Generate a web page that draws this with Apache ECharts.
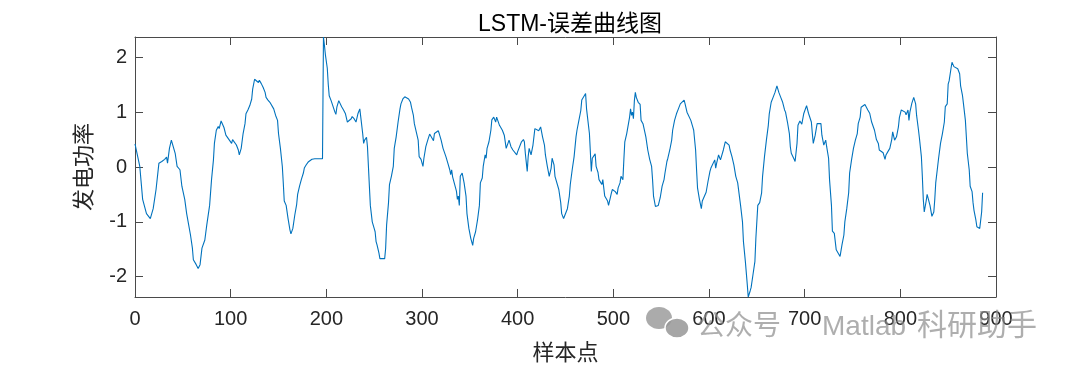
<!DOCTYPE html>
<html>
<head>
<meta charset="utf-8">
<script src="https://cdn.jsdelivr.net/npm/echarts@6/dist/echarts.min.js"></script>
<style>
html,body{margin:0;padding:0;background:#ffffff;}
#chart{width:1080px;height:370px;}
</style>
</head>
<body>
<div id="chart"></div>
<script>
// Sample indices and LSTM error values
const sampleIdx = [0,5,8,12,16,19,22,25,28,31,33,34,36,38,40,42,44,47,49,52,54,55,58,60,61,64,66,68,70,73,75,78,80,82,83,85,87,88,90,91,93,95,97,99,101,102,104,106,108,109,111,113,115,116,118,120,122,123,125,127,129,130,132,134,136,137,139,141,143,145,147,149,150,152,154,155,156,158,160,162,163,165,167,169,170,172,174,176,177,179,181,183,185,188,191,196,197,198,199,201,202,203,205,207,209,210,211,213,215,216,218,220,222,224,226,227,229,230,231,233,235,236,238,239,240,242,243,244,245,246,248,250,251,252,253,255,256,258,261,262,263,265,266,268,270,271,273,275,277,278,280,282,284,286,288,289,291,292,294,296,297,299,301,302,304,306,308,310,312,313,315,317,318,320,322,324,325,327,329,330,331,332,334,336,337,338,339,340,342,344,346,347,349,351,353,354,356,358,360,361,363,364,366,367,368,370,372,373,375,377,378,379,381,383,384,386,388,391,393,395,397,399,400,402,404,406,407,408,410,411,412,414,416,418,420,422,424,426,428,429,431,432,433,435,436,438,439,441,443,445,446,448,450,452,454,455,457,459,461,462,464,466,467,469,471,472,474,475,477,478,479,481,482,484,485,486,488,489,491,492,494,495,497,498,499,501,502,504,505,507,508,510,511,512,514,515,517,518,519,520,521,522,523,524,526,528,529,531,533,534,536,538,540,541,542,544,546,547,549,551,553,554,556,557,559,561,562,564,566,567,568,570,572,574,575,577,579,581,583,584,586,587,588,590,592,593,595,597,599,601,602,604,606,607,608,610,612,614,615,617,619,621,622,624,626,628,630,631,633,635,636,638,640,641,643,644,646,648,649,651,653,655,656,658,660,662,663,665,667,669,671,673,675,677,679,680,682,684,685,686,689,690,692,693,695,697,699,701,702,704,705,707,708,709,711,713,715,717,718,720,722,723,725,726,728,729,731,732,733,735,737,738,739,741,742,744,746,747,749,751,753,755,756,758,759,761,763,764,766,768,770,771,773,775,777,778,780,782,784,785,787,789,791,792,794,796,798,799,801,803,805,806,808,809,810,812,814,816,817,819,820,822,823,824,825,827,828,830,831,833,835,836,837,839,840,842,844,846,847,849,850,851,853,854,856,858,860,862,863,865,866,868,869,870,872,873,875,876,877,879,880,882,883,885,886];
const errValues = [0.42,0.01,-0.59,-0.85,-0.94,-0.76,-0.41,0.07,0.10,0.14,0.18,0.07,0.34,0.49,0.51,0.25,0.01,-0.05,-0.35,-0.59,-0.85,-0.85,-1.24,-1.48,-1.69,-1.78,-1.85,-1.78,-1.48,-1.33,-1.06,-0.70,-0.23,0.13,0.43,0.67,0.74,0.70,0.84,0.86,0.72,0.58,0.55,0.48,0.43,0.50,0.50,0.40,0.31,0.22,0.34,0.61,0.79,0.97,1.04,1.12,1.24,1.42,1.60,1.62,1.54,1.58,1.52,1.45,1.36,1.27,1.22,1.18,1.16,1.06,0.94,0.85,0.61,0.34,0.01,-0.29,-0.62,-0.70,-0.94,-1.15,-1.22,-1.12,-0.88,-0.68,-0.50,-0.35,-0.22,-0.11,-0.02,0.04,0.09,0.12,0.14,0.15,0.15,0.15,2.37,2.22,2.05,1.80,1.51,1.30,1.21,1.18,1.00,0.96,1.09,1.21,1.19,1.10,1.04,0.97,0.82,0.84,0.88,0.92,0.88,0.91,0.82,0.97,1.06,0.91,0.61,0.43,0.49,0.54,0.37,0.01,-0.35,-0.70,-1.00,-1.12,-1.18,-1.36,-1.42,-1.57,-1.67,-1.69,-1.67,-1.48,-1.06,-0.65,-0.32,-0.17,0.01,0.34,0.55,0.82,1.06,1.15,1.24,1.28,1.27,1.24,1.18,1.09,0.94,0.79,0.64,0.49,0.19,0.14,0.01,0.16,0.37,0.49,0.60,0.58,0.48,0.61,0.64,0.66,0.61,0.49,0.34,0.37,0.19,0.07,-0.05,-0.14,-0.05,-0.18,-0.16,-0.44,-0.59,-0.53,-0.70,-0.17,-0.11,-0.29,-0.53,-0.85,-1.12,-1.30,-1.43,-1.30,-1.18,-0.97,-0.70,-0.29,-0.20,0.01,0.22,0.16,0.34,0.46,0.67,0.86,0.91,0.82,0.91,0.88,0.76,0.79,0.67,0.58,0.34,0.49,0.37,0.31,0.34,0.22,0.28,0.31,0.46,0.50,0.46,0.25,-0.08,0.19,0.34,0.22,0.40,0.70,0.73,0.66,0.73,0.55,0.40,0.22,0.01,0.04,-0.17,-0.02,0.16,0.04,-0.17,-0.20,-0.41,-0.65,-0.85,-0.94,-0.93,-0.76,-0.53,-0.32,-0.05,0.19,0.55,0.67,0.85,1.03,1.22,1.24,1.34,1.06,1.03,0.61,-0.08,0.16,0.13,0.24,0.01,-0.10,-0.23,-0.26,-0.32,-0.23,-0.53,-0.56,-0.62,-0.70,-0.55,-0.47,-0.41,-0.38,-0.45,-0.50,-0.38,-0.29,-0.17,-0.23,0.13,0.46,0.61,0.62,0.91,1.06,0.94,1.00,0.88,1.21,1.36,1.27,1.18,1.14,0.85,0.79,0.76,0.55,0.31,0.14,0.01,-0.23,-0.53,-0.72,-0.70,-0.70,-0.56,-0.35,-0.23,-0.11,0.10,0.16,0.31,0.49,0.67,0.85,0.97,0.94,1.06,1.15,1.18,1.22,1.15,1.00,0.97,0.85,0.73,0.67,0.31,-0.05,-0.38,-0.59,-0.76,-0.62,-0.64,-0.46,-0.26,-0.08,-0.02,0.01,0.13,-0.02,0.07,0.22,0.13,0.10,0.31,0.46,0.49,0.40,0.31,0.19,0.04,-0.17,-0.29,-0.32,-0.70,-1.00,-1.36,-1.72,-2.14,-2.37,-2.26,-2.20,-1.96,-1.72,-1.30,-0.70,-0.65,-0.47,-0.17,0.19,0.49,0.76,0.97,1.18,1.27,1.36,1.48,1.36,1.27,1.18,1.04,1.00,0.82,0.61,0.37,0.25,0.14,0.10,0.43,0.76,0.84,0.78,0.97,0.94,1.12,0.98,0.97,0.82,0.61,0.43,0.58,0.79,0.80,0.79,0.58,0.40,0.49,0.37,0.16,-0.23,-0.70,-1.17,-1.21,-1.36,-1.51,-1.54,-1.63,-1.65,-1.42,-1.24,-1.00,-0.76,-0.47,-0.11,0.13,0.34,0.49,0.61,0.79,0.91,1.09,1.12,1.14,1.17,1.04,0.98,0.82,0.79,0.67,0.50,0.43,0.31,0.28,0.26,0.14,0.22,0.28,0.34,0.50,0.64,0.49,0.55,0.73,0.90,1.04,1.04,1.00,0.95,1.04,0.85,1.00,1.16,1.27,1.15,0.94,0.67,0.52,0.19,-0.17,-0.59,-0.82,-0.62,-0.50,-0.53,-0.70,-0.90,-0.82,-0.59,-0.29,0.01,0.16,0.43,0.61,0.82,1.10,1.15,1.51,1.57,1.80,1.91,1.83,1.81,1.79,1.70,1.48,1.30,1.15,0.85,0.55,0.25,-0.05,-0.35,-0.45,-0.65,-0.79,-0.97,-1.09,-1.09,-1.12,-0.82,-0.47];
const xTicks = [0,100,200,300,400,500,600,700,800,900];
const yTicks = [-2,-1,0,1,2];
const titleText = 'LSTM-误差曲线图';
const xName = '样本点';
const yName = '发电功率';
const wmParts = ['公众号', 'Matlab', '科研助手'];

const points = sampleIdx.map((x, i) => [x, errValues[i]]);
const FONT = '"Liberation Sans", Arial, "Noto Sans CJK SC", sans-serif';
const axisCol = '#4a4a4a';
const textCol = '#262626';
const yMin = -2.37, yMax = 2.37;

const chart = echarts.init(document.getElementById('chart'), null, {renderer: 'canvas'});
const baseX = {
  type: 'value', min: 0, max: 900, interval: 100,
  axisLine: {show: true, onZero: false, lineStyle: {color: axisCol, width: 1}},
  axisTick: {show: true, inside: true, length: 8, lineStyle: {color: axisCol}},
  splitLine: {show: false}
};
const baseY = {
  type: 'value', min: yMin, max: yMax,
  axisLine: {show: true, onZero: false, lineStyle: {color: axisCol, width: 1}},
  axisTick: {show: true, inside: true, length: 8, customValues: yTicks, lineStyle: {color: axisCol}},
  splitLine: {show: false}
};
const wmStyle = {fontFamily: FONT, fill: 'rgba(140,140,140,0.7)', verticalAlign: 'middle'};
chart.setOption({
  animation: false,
  backgroundColor: '#ffffff',
  title: {
    text: titleText, left: 565, top: 8, textAlign: 'center',
    textStyle: {fontFamily: FONT, fontSize: 23, fontWeight: 'normal', color: '#000000'}
  },
  grid: {left: 135, right: 84, top: 37, bottom: 68, containLabel: false},
  xAxis: [
    Object.assign({}, baseX, {
      position: 'bottom',
      name: xName, nameLocation: 'middle', nameGap: 46,
      nameTextStyle: {fontFamily: FONT, fontSize: 22, color: textCol},
      axisLabel: {show: true, margin: 12, fontFamily: FONT, fontSize: 20, color: textCol,
        customValues: xTicks}
    }),
    Object.assign({}, baseX, {position: 'top', axisLabel: {show: false}})
  ],
  yAxis: [
    Object.assign({}, baseY, {
      position: 'left',
      name: yName, nameLocation: 'middle', nameGap: 39, nameRotate: 90,
      nameTextStyle: {fontFamily: FONT, fontSize: 22, color: textCol},
      axisLabel: {show: true, margin: 8, fontFamily: FONT, fontSize: 20, color: textCol,
        customValues: yTicks}
    }),
    Object.assign({}, baseY, {position: 'right', axisLabel: {show: false}})
  ],
  series: [{
    type: 'line', xAxisIndex: 0, yAxisIndex: 0,
    data: points, showSymbol: false, symbol: 'none',
    lineStyle: {color: '#0072BD', width: 1.1},
    clip: true
  }],
  graphic: [
    {type: 'ellipse', shape: {cx: 659, cy: 318, rx: 13, ry: 11}, style: {fill: 'rgba(150,150,150,0.8)'}, z: 100},
    {type: 'ellipse', shape: {cx: 677, cy: 328, rx: 12, ry: 10}, style: {fill: 'rgba(150,150,150,0.85)', stroke: '#ffffff', lineWidth: 1.5}, z: 101},
    {type: 'text', x: 697, y: 327, z: 102, style: Object.assign({text: wmParts[0], fontSize: 28}, wmStyle)},
    {type: 'text', x: 822, y: 327, z: 102, style: Object.assign({text: wmParts[1], fontSize: 28}, wmStyle)},
    {type: 'text', x: 917, y: 327, z: 102, style: Object.assign({text: wmParts[2], fontSize: 30}, wmStyle)}
  ]
});
</script>
</body>
</html>
